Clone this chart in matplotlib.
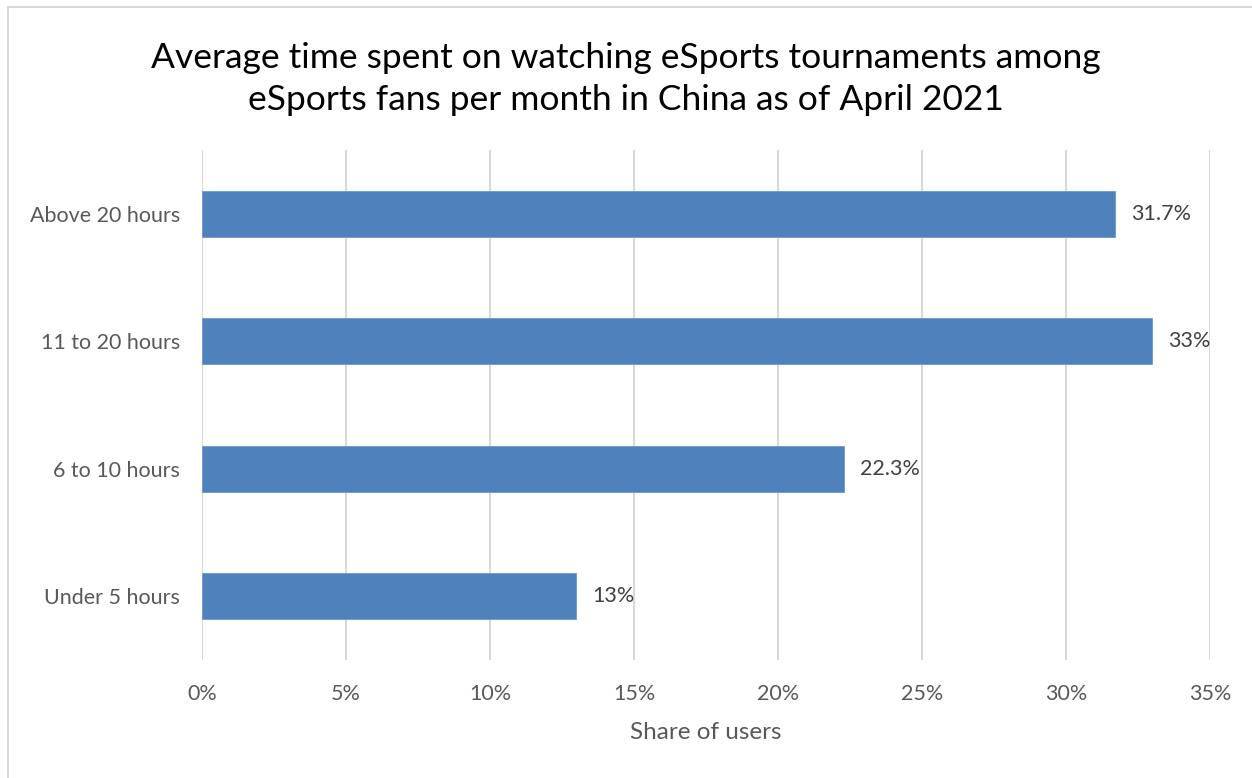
import matplotlib
matplotlib.use("Agg")
import matplotlib.pyplot as plt
from matplotlib.patches import Rectangle
from matplotlib.ticker import FuncFormatter

# Monthly viewing time of eSports tournaments, share of fans
categories = ["Under 5 hours", "6 to 10 hours", "11 to 20 hours", "Above 20 hours"]
shares = [13, 22.3, 33, 31.7]
value_labels = ["13%", "22.3%", "33%", "31.7%"]
x_ticks = [0, 5, 10, 15, 20, 25, 30, 35]

plt.rcParams["font.family"] = ["Lato", "DejaVu Sans"]

fig = plt.figure(figsize=(12.52, 7.78), dpi=100)
ax = fig.add_axes([202 / 1252, 1 - 660 / 778, 1008 / 1252, 510 / 778])

bar_color = "#4f81bd"
ypos = range(len(categories))
ax.barh(ypos, shares, height=0.36, color=bar_color, edgecolor="#6f97c9", linewidth=0.6, zorder=3)

for y, v, lab in zip(ypos, shares, value_labels):
    ax.text(v + 0.55, y, lab, va="center", ha="left", fontsize=15.5, color="#404040")

ax.set_xlim(0, 35)
ax.set_ylim(-0.5, 3.5)
ax.set_xticks(x_ticks)
ax.xaxis.set_major_formatter(FuncFormatter(lambda v, p: f"{v:.0f}%"))
ax.set_yticks(list(ypos))
ax.set_yticklabels(categories)
ax.tick_params(axis="both", length=0, labelsize=15.5, labelcolor="#595959")
ax.tick_params(axis="x", pad=17)
ax.tick_params(axis="y", pad=16)
ax.grid(axis="x", color="#d9d9d9", linewidth=1.5, zorder=0)
for s in ax.spines.values():
    s.set_visible(False)

ax.set_xlabel("Share of users", fontsize=17.5, color="#595959", labelpad=13)

fig.text(0.5, 1 - 79 / 778,
         "Average time spent on watching eSports tournaments among\neSports fans per month in China as of April 2021",
         ha="center", va="center", fontsize=25.5, color="#000000", linespacing=1.4)

# light frame around the chart area
fig.patches.append(Rectangle((8 / 1252, -0.1), 1.2, 1 - 7 / 778 + 0.1,
                             transform=fig.transFigure, fill=False,
                             edgecolor="#d9d9d9", linewidth=1.5))

fig.savefig("out.png", dpi=100)
